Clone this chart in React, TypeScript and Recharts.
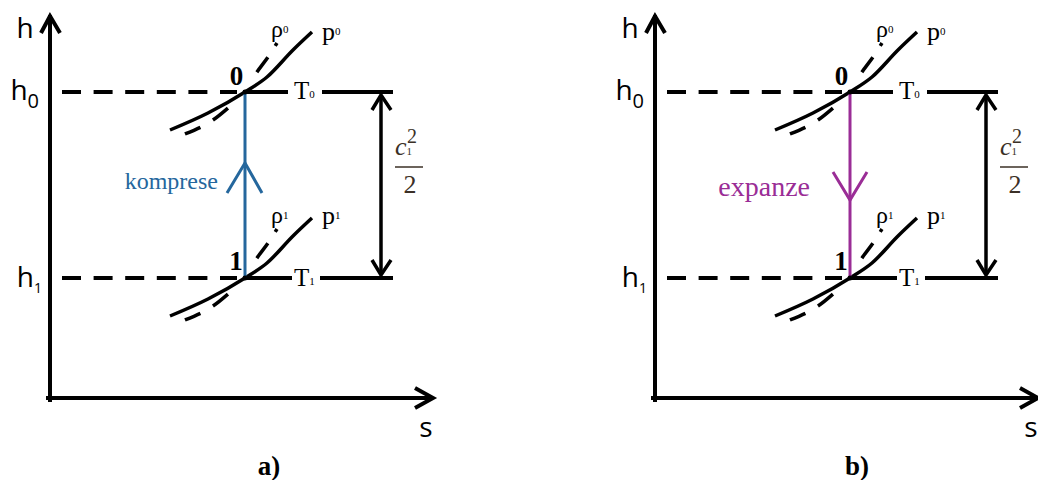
import React from 'react';
import { ComposedChart, Line, XAxis, YAxis, ReferenceDot } from 'recharts';

type Pt = { s: number; h: number };

// axes of the h-s diagram (origin in the corner of the axes)
const hAxis: Pt[] = [{ s: 0, h: -2 }, { s: 0, h: 381 }];
const hAxisHead: Pt[] = [{ s: -9, h: 365 }, { s: 0, h: 382 }, { s: 10, h: 365 }];
const sAxis: Pt[] = [{ s: -2, h: 0 }, { s: 381, h: 0 }];
const sAxisHead: Pt[] = [{ s: 365, h: 10 }, { s: 383, h: 0 }, { s: 365, h: -10 }];

// dashed guides from the states to the h axis
const h0Guide: Pt[] = [{ s: 12, h: 306 }, { s: 187, h: 306 }];
const h1Guide: Pt[] = [{ s: 12, h: 120 }, { s: 187, h: 120 }];

// isotherms, broken where the T label sits
const t0Left: Pt[] = [{ s: 193, h: 306 }, { s: 238, h: 306 }];
const t0Right: Pt[] = [{ s: 272, h: 306 }, { s: 343, h: 306 }];
const t1Left: Pt[] = [{ s: 193, h: 120 }, { s: 242, h: 120 }];
const t1Right: Pt[] = [{ s: 270, h: 120 }, { s: 343, h: 120 }];

// isobars
const p0: Pt[] = [
  { s: 120, h: 268 }, { s: 158, h: 285 }, { s: 195, h: 306 },
  { s: 217, h: 321 }, { s: 243, h: 348 }, { s: 262, h: 366 },
];
const p1: Pt[] = [
  { s: 120, h: 82 }, { s: 158, h: 99 }, { s: 195, h: 120 },
  { s: 217, h: 135 }, { s: 243, h: 162 }, { s: 262, h: 180 },
];

// isochores (dashed)
const rho0: Pt[] = [
  { s: 135, h: 264 }, { s: 163, h: 278 }, { s: 178, h: 290 }, { s: 195, h: 306 },
  { s: 207, h: 326 }, { s: 218, h: 341 }, { s: 227, h: 355 },
];
const rho1: Pt[] = [
  { s: 135, h: 78 }, { s: 163, h: 92 }, { s: 178, h: 104 }, { s: 195, h: 120 },
  { s: 207, h: 140 }, { s: 218, h: 155 }, { s: 227, h: 169 },
];

// c1^2/2 double arrow
const dhShaft: Pt[] = [{ s: 331, h: 303 }, { s: 331, h: 123 }];
const dhHeadTop: Pt[] = [{ s: 322, h: 288 }, { s: 331, h: 303 }, { s: 341, h: 288 }];
const dhHeadBottom: Pt[] = [{ s: 322, h: 138 }, { s: 331, h: 123 }, { s: 341, h: 138 }];
const fractionBar: Pt[] = [{ s: 345, h: 231 }, { s: 373, h: 231 }];

// process 0 <-> 1
const processLine: Pt[] = [{ s: 195, h: 306 }, { s: 195, h: 120 }];
const compressionHead: Pt[] = [{ s: 177, h: 205 }, { s: 195, h: 235 }, { s: 212, h: 205 }];
const expansionHead: Pt[] = [{ s: 178, h: 226 }, { s: 195, h: 198 }, { s: 212, h: 226 }];
const states: Pt[] = [{ s: 195, h: 306 }, { s: 195, h: 120 }];

const serif = "'Liberation Serif', 'Times New Roman', serif";
const sans = "'Open Sans', 'DejaVu Sans', sans-serif";
const rhoDash = '16.8 14.5 19.2 46.6 18.6 13.6 3.5 60';

const seg = (key: string, data: Pt[], stroke: string, width: number, extra: any = {}) => (
  <Line
    key={key}
    data={data}
    dataKey="h"
    type="linear"
    stroke={stroke}
    strokeWidth={width}
    dot={false}
    activeDot={false}
    legendType="none"
    isAnimationActive={false}
    {...extra}
  />
);

const label = (key: string, s: number, h: number, node: React.ReactElement) => (
  <ReferenceDot
    key={key}
    x={s}
    y={h}
    r={0}
    shape={(p: any) => React.cloneElement(node as any, { x: p.cx, y: p.cy })}
  />
);

interface PanelProps {
  left: number;
  width: number;
  color: string;
  head: Pt[];
  procText: string;
  procS: number;
  procH: number;
  procSize: number;
  caption: string;
  captionS: number;
}

const Panel = ({ left, width, color, head, procText, procS, procH, procSize, caption, captionS }: PanelProps) => (
  <div style={{ position: 'absolute', left, top: 0 }}>
    <ComposedChart width={width} height={480} margin={{ top: 0, right: 0, bottom: 0, left: 0 }}>
      <XAxis type="number" dataKey="s" domain={[-50, width - 50]} allowDataOverflow hide />
      <YAxis type="number" domain={[-82, 398]} allowDataOverflow hide />

      {seg('hAxis', hAxis, '#000', 4, { strokeLinecap: 'square' })}
      {seg('hAxisHead', hAxisHead, '#000', 4)}
      {seg('sAxis', sAxis, '#000', 4, { strokeLinecap: 'square' })}
      {seg('sAxisHead', sAxisHead, '#000', 4)}

      {seg('h0Guide', h0Guide, '#000', 4, { strokeDasharray: '19 12.6' })}
      {seg('h1Guide', h1Guide, '#000', 4, { strokeDasharray: '19 12.6' })}
      {seg('t0Left', t0Left, '#000', 4)}
      {seg('t0Right', t0Right, '#000', 4)}
      {seg('t1Left', t1Left, '#000', 4)}
      {seg('t1Right', t1Right, '#000', 4)}

      {seg('p0', p0, '#000', 3.5, { type: 'monotone' })}
      {seg('p1', p1, '#000', 3.5, { type: 'monotone' })}
      {seg('rho0', rho0, '#000', 3.5, { type: 'monotone', strokeDasharray: rhoDash })}
      {seg('rho1', rho1, '#000', 3.5, { type: 'monotone', strokeDasharray: rhoDash })}

      {seg('dhShaft', dhShaft, '#000', 3.5)}
      {seg('dhHeadTop', dhHeadTop, '#000', 3.5)}
      {seg('dhHeadBottom', dhHeadBottom, '#000', 3.5)}
      {seg('fractionBar', fractionBar, '#3b3026', 1.5)}

      {seg('process', processLine, color, 3)}
      {seg('processHead', head, color, 3)}
      {states.map((p, i) => (
        <ReferenceDot key={`state${i}`} x={p.s} y={p.h} r={2.5} fill="#000" stroke="none" />
      ))}

      {label('hLabel', -25, 360, <text textAnchor="middle" fontFamily={sans} fontSize={28}>h</text>)}
      {label('sLabel', 376, -39, <text textAnchor="middle" fontFamily={sans} fontSize={28}>s</text>)}
      {label('h0Label', -11, 298,
        <text textAnchor="end" fontFamily={sans} fontSize={28}>h<tspan fontSize={20} dy={8}>0</tspan></text>)}
      {label('h1Label', -8, 111,
        <text textAnchor="end" fontFamily={sans} fontSize={28}>h<tspan fontSize={14} dy={6}>1</tspan></text>)}

      {label('pt0', 186.5, 313, <text textAnchor="middle" fontFamily={serif} fontWeight="bold" fontSize={27}>0</text>)}
      {label('pt1', 186, 128, <text textAnchor="middle" fontFamily={serif} fontWeight="bold" fontSize={27}>1</text>)}

      {label('rho0Label', 221, 361,
        <text fontFamily={serif} fontSize={24}>ρ<tspan fontSize={11} dy={-4}>0</tspan></text>)}
      {label('rho1Label', 221, 175,
        <text fontFamily={serif} fontSize={24}>ρ<tspan fontSize={11} dy={-4}>1</tspan></text>)}
      {label('p0Label', 272, 358,
        <text fontFamily={serif} fontSize={26}>p<tspan fontSize={11} dy={-5}>0</tspan></text>)}
      {label('p1Label', 272, 174,
        <text fontFamily={serif} fontSize={26}>p<tspan fontSize={11} dy={-5}>1</tspan></text>)}
      {label('t0Label', 244, 299,
        <text fontFamily={serif} fontSize={25}>T<tspan fontSize={11} dy={-1}>0</tspan></text>)}
      {label('t1Label', 244, 112,
        <text fontFamily={serif} fontSize={25}>T<tspan fontSize={11} dy={-1}>1</tspan></text>)}

      {label('fracNum', 345, 243,
        <text fontFamily={serif} fontSize={26} fill="#3b3026">
          <tspan fontStyle="italic">c</tspan>
          <tspan fontSize={11}>1</tspan>
          <tspan fontSize={20} dx={-5} dy={-12}>2</tspan>
        </text>)}
      {label('fracDen', 360, 205, <text textAnchor="middle" fontFamily={serif} fontSize={26} fill="#3b3026">2</text>)}

      {label('procLabel', procS, procH,
        <text textAnchor="end" fontFamily={serif} fontSize={procSize} fill={color}>{procText}</text>)}
      {label('caption', captionS, -77,
        <text textAnchor="middle" fontFamily={serif} fontWeight="bold" fontSize={27}>{caption}</text>)}
    </ComposedChart>
  </div>
);

export default function App() {
  return (
    <div style={{ position: 'absolute', left: 0, top: 0, width: 1038, height: 480, overflow: 'hidden', background: '#fff' }}>
      <Panel
        left={0}
        width={605}
        color="#25679d"
        head={compressionHead}
        procText="komprese"
        procS={168}
        procH={209}
        procSize={24}
        caption="a)"
        captionS={219}
      />
      <Panel
        left={605}
        width={433}
        color="#9a2d96"
        head={expansionHead}
        procText="expanze"
        procS={155}
        procH={202}
        procSize={28}
        caption="b)"
        captionS={202}
      />
    </div>
  );
}
